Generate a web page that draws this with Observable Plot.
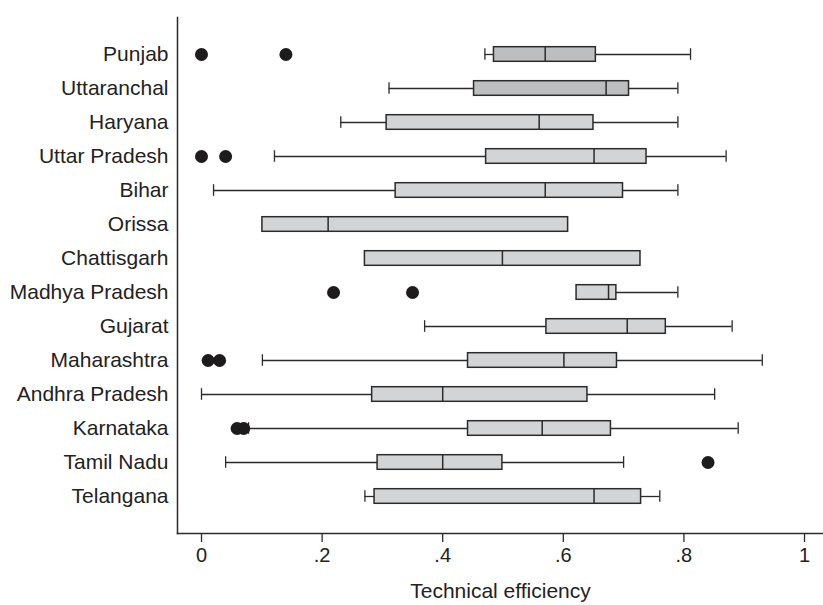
<!DOCTYPE html>
<html>
<head>
<meta charset="utf-8">
<script src="https://cdn.jsdelivr.net/npm/d3@7"></script>
<script src="https://cdn.jsdelivr.net/npm/@observablehq/plot@0.6"></script>
<style>
  html, body { margin: 0; padding: 0; background: #fff; }
  #chart { width: 823px; height: 605px; }
</style>
</head>
<body>
<div id="chart"></div>
<script>
// ---- data ----
const states = ["Punjab", "Uttaranchal", "Haryana", "Uttar Pradesh", "Bihar", "Orissa", "Chattisgarh",
  "Madhya Pradesh", "Gujarat", "Maharashtra", "Andhra Pradesh", "Karnataka", "Tamil Nadu", "Telangana"];
const whiskerLow  = [0.470, 0.311, 0.231, 0.121, 0.020, 0.101, 0.271, 0.622, 0.370, 0.101, 0.000, 0.078, 0.040, 0.271];
const q1          = [0.485, 0.452, 0.307, 0.472, 0.322, 0.101, 0.271, 0.622, 0.572, 0.442, 0.283, 0.442, 0.292, 0.287];
const median      = [0.570, 0.671, 0.560, 0.651, 0.570, 0.210, 0.499, 0.675, 0.706, 0.601, 0.400, 0.565, 0.400, 0.651];
const q3          = [0.654, 0.709, 0.650, 0.738, 0.699, 0.608, 0.728, 0.688, 0.770, 0.689, 0.640, 0.679, 0.499, 0.729];
const whiskerHigh = [0.811, 0.790, 0.790, 0.870, 0.790, 0.608, 0.728, 0.790, 0.880, 0.930, 0.851, 0.890, 0.700, 0.760];
const boxGroup    = ["dark", "dark", "light", "light", "light", "light", "light",
  "light", "light", "light", "light", "light", "light", "light"];

const outlierStates = ["Punjab", "Punjab", "Uttar Pradesh", "Uttar Pradesh", "Madhya Pradesh", "Madhya Pradesh",
  "Maharashtra", "Maharashtra", "Karnataka", "Karnataka", "Tamil Nadu"];
const outlierValues = [0.000, 0.140, 0.000, 0.040, 0.219, 0.350, 0.011, 0.030, 0.059, 0.070, 0.840];

const xTickValues = [0, 0.2, 0.4, 0.6, 0.8, 1];
const xTickLabels = ["0", ".2", ".4", ".6", ".8", "1"];
const xTitle = "Technical efficiency";

// ---- build tables ----
const rows = states.map((s, i) => ({
  state: s, lo: whiskerLow[i], q1: q1[i], med: median[i], q3: q3[i], hi: whiskerHigh[i], group: boxGroup[i]
}));
const outliers = outlierStates.map((s, i) => ({state: s, value: outlierValues[i]}));
const lowW = rows.filter(d => d.lo < d.q1);
const highW = rows.filter(d => d.hi > d.q3);

const ink = "#2b2b2b";
const boxInset = 9.7;
const capInset = 11.2;

const chart = Plot.plot({
  width: 823,
  height: 605,
  marginLeft: 177,
  marginRight: 0,
  marginTop: 17,
  marginBottom: 72,
  style: {fontFamily: "'Liberation Sans', Arial, Helvetica, sans-serif", fontSize: "21px", color: "#222", background: "#fff"},
  x: {domain: [-0.0398, 1.0315], label: null},
  y: {type: "band", domain: states, paddingInner: 0, paddingOuter: 0.5, label: null},
  color: {type: "ordinal", domain: ["dark", "light"], range: ["#bdbec0", "#d3d4d5"]},
  marks: [
    // whiskers
    Plot.ruleY(lowW, {y: "state", x1: "lo", x2: "q1", stroke: ink, strokeWidth: 1.3}),
    Plot.ruleY(highW, {y: "state", x1: "q3", x2: "hi", stroke: ink, strokeWidth: 1.3}),
    Plot.tickX(lowW, {x: "lo", y: "state", stroke: ink, strokeWidth: 1.3, insetTop: capInset, insetBottom: capInset}),
    Plot.tickX(highW, {x: "hi", y: "state", stroke: ink, strokeWidth: 1.3, insetTop: capInset, insetBottom: capInset}),
    // boxes
    Plot.barX(rows, {y: "state", x1: "q1", x2: "q3", fill: "group", stroke: ink, strokeWidth: 1.5,
      insetTop: boxInset, insetBottom: boxInset}),
    Plot.tickX(rows, {x: "med", y: "state", stroke: ink, strokeWidth: 1.5, insetTop: boxInset, insetBottom: boxInset}),
    // outliers
    Plot.dot(outliers, {x: "value", y: "state", r: 6.5, fill: "#1e1b1c", stroke: "none"}),
    // axes
    Plot.axisY({tickSize: 0, tickPadding: 9, label: null, fontSize: 21, fill: "#222"}),
    Plot.axisX({ticks: xTickValues, tickFormat: (d) => xTickLabels[xTickValues.indexOf(d)],
      tickSize: 9, tickPadding: 5, label: null, fontSize: 20, stroke: ink, strokeWidth: 1.3, fill: "#222"}),
    Plot.frame({anchor: "left", stroke: ink, strokeWidth: 1.5}),
    Plot.frame({anchor: "bottom", stroke: ink, strokeWidth: 1.5}),
    Plot.text([xTitle], {frameAnchor: "bottom", dy: 58, text: d => d, fontSize: 21, fill: "#222", lineAnchor: "middle"})
  ]
});
document.getElementById("chart").appendChild(chart);
</script>
</body>
</html>
